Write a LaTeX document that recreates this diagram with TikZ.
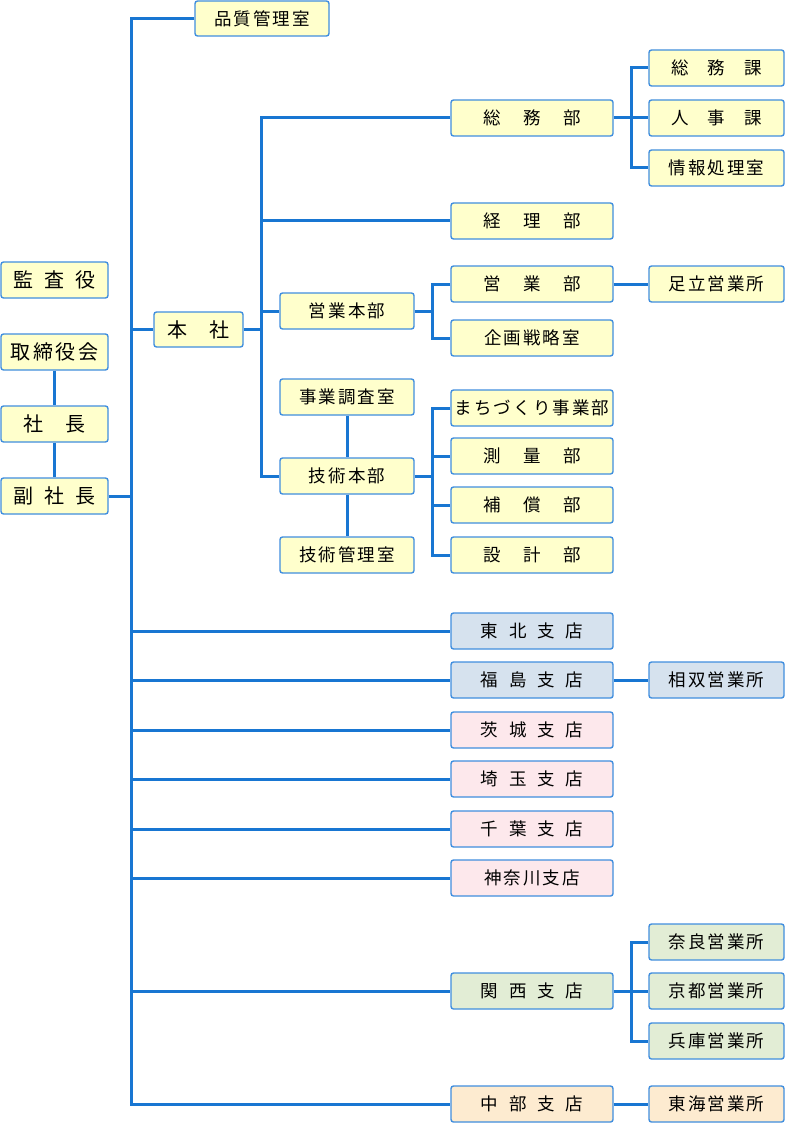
\documentclass[tikz,border=0pt]{standalone}
\usepackage{fontspec}
\setmainfont{Noto Sans CJK JP}[LetterSpace=12]
\usetikzlibrary{positioning}
\definecolor{linkblue}{RGB}{24,118,210}
\definecolor{edgeblue}{RGB}{64,142,222}
\definecolor{honshafill}{RGB}{255,255,204}
\definecolor{tohokufill}{RGB}{214,226,238}
\definecolor{kantofill}{RGB}{253,232,236}
\definecolor{kansaifill}{RGB}{226,237,213}
\definecolor{chubufill}{RGB}{253,235,208}
\newcommand{\gap}[1]{\hspace{#1em}}

\tikzset{
  unit/.style={draw=edgeblue,line width=1.4pt,rounded corners=2.5pt,fill=honshafill,
    minimum height=36pt,inner sep=0pt,font=\fontsize{17.5}{17.5}\selectfont},
  top/.style={unit,minimum width=107pt,font=\fontsize{20}{20}\selectfont},
  mid/.style={unit,minimum width=134pt},
  dept/.style={unit,minimum width=162pt},
  sect/.style={unit,minimum width=135pt},
  link/.style={draw=linkblue,line width=3pt},
}

\begin{document}
\begin{tikzpicture}[x=1pt,y=-1pt]
\useasboundingbox (0,0) rectangle (786,1123);
% executives
\node[top] (kansa) at (54.5,280) {監\gap{.53}査\gap{.53}役};
\node[top] (torishimari) at (54.5,352) {取締役会};
\node[top] (shacho) at (54.5,424) {社\gap{1.08}長};
\node[top] (fuku) at (54.5,496) {副\gap{.53}社\gap{.53}長};
\node[mid,minimum height=35pt] (hinshitsu) at (262,18.5) {品質管理室};
\node[top,minimum width=89pt,minimum height=35pt] (honsha) at (198.5,329.5) {本\gap{1.08}社};
% head office
\node[mid] (eigyohonbu) at (347,311) {営業本部};
\node[mid] (jigyo) at (347,397) {事業調査室};
\node[mid] (gijutsu) at (347,476) {技術本部};
\node[mid] (gikan) at (347,555) {技術管理室};
\node[dept] (somu) at (532,118) {総\gap{1.3}務\gap{1.3}部};
\node[dept] (keiri) at (532,221) {経\gap{1.3}理\gap{1.3}部};
\node[dept] (eigyo) at (532,284) {営\gap{1.3}業\gap{1.3}部};
\node[dept] (kikaku) at (532,338) {企画戦略室};
\node[dept] (machi) at (532,408) {まちづくり事業部};
\node[dept] (sokuryo) at (532,456) {測\gap{1.3}量\gap{1.3}部};
\node[dept] (hosho) at (532,505) {補\gap{1.3}償\gap{1.3}部};
\node[dept] (sekkei) at (532,555) {設\gap{1.3}計\gap{1.3}部};
\node[sect] (somuka) at (716.5,68) {総\gap{1.1}務\gap{1.1}課};
\node[sect] (jinji) at (716.5,118) {人\gap{1.1}事\gap{1.1}課};
\node[sect] (joho) at (716.5,168) {情報処理室};
\node[sect] (adachi) at (716.5,284) {足立営業所};
% branches
\node[dept,fill=tohokufill] (tohoku) at (532,631) {東\gap{.62}北\gap{.62}支\gap{.62}店};
\node[dept,fill=tohokufill] (fukushima) at (532,680) {福\gap{.62}島\gap{.62}支\gap{.62}店};
\node[sect,fill=tohokufill] (soso) at (716.5,680) {相双営業所};
\node[dept,fill=kantofill] (ibaraki) at (532,730) {茨\gap{.62}城\gap{.62}支\gap{.62}店};
\node[dept,fill=kantofill] (saitama) at (532,779) {埼\gap{.62}玉\gap{.62}支\gap{.62}店};
\node[dept,fill=kantofill] (chiba) at (532,829) {千\gap{.62}葉\gap{.62}支\gap{.62}店};
\node[dept,fill=kantofill] (kanagawa) at (532,878) {神奈川支店};
\node[dept,fill=kansaifill] (kansai) at (532,991) {関\gap{.62}西\gap{.62}支\gap{.62}店};
\node[sect,fill=kansaifill] (nara) at (716.5,942) {奈良営業所};
\node[sect,fill=kansaifill] (kyoto) at (716.5,991) {京都営業所};
\node[sect,fill=kansaifill] (hyogo) at (716.5,1041) {兵庫営業所};
\node[dept,fill=chubufill] (chubu) at (532,1104) {中\gap{.62}部\gap{.62}支\gap{.62}店};
\node[sect,fill=chubufill] (tokai) at (716.5,1104) {東海営業所};

\coordinate (trunk) at (131,0);
\coordinate (trunkhq) at (261,0);
\coordinate (fork) at (432,0);
\coordinate (forksect) at (631,0);

% main line
\draw[link] (hinshitsu.west) -| (trunk |- chubu) -- (chubu.west);
\draw[link] (fuku.east) -- (fuku.east -| trunk);
\foreach \n in {honsha,tohoku,fukushima,ibaraki,saitama,chiba,kanagawa,kansai}
  \draw[link] (\n.west -| trunk) -- (\n.west);
\draw[link] (torishimari.south) -- (shacho.north);
\draw[link] (shacho.south) -- (fuku.north);
% head office lines
\draw[link] (somu.west) -| (trunkhq |- gijutsu) -- (gijutsu.west);
\draw[link] (honsha.east) -- (honsha.east -| trunkhq);
\foreach \n in {keiri,eigyohonbu}
  \draw[link] (\n.west -| trunkhq) -- (\n.west);
\draw[link] (eigyohonbu.east) -- (eigyohonbu.east -| fork);
\draw[link] (eigyo.west) -| (fork |- kikaku) -- (kikaku.west);
\draw[link] (gijutsu.east) -- (gijutsu.east -| fork);
\draw[link] (machi.west) -| (fork |- sekkei) -- (sekkei.west);
\foreach \n in {sokuryo,hosho}
  \draw[link] (\n.west -| fork) -- (\n.west);
\draw[link] (jigyo.south) -- (gijutsu.north);
\draw[link] (gijutsu.south) -- (gikan.north);
% sections
\draw[link] (somuka.west) -| (forksect |- joho) -- (joho.west);
\draw[link] (somu.east) -- (jinji.west);
\draw[link] (eigyo.east) -- (adachi.west);
\draw[link] (fukushima.east) -- (soso.west);
\draw[link] (nara.west) -| (forksect |- hyogo) -- (hyogo.west);
\draw[link] (kansai.east) -- (kyoto.west);
\draw[link] (chubu.east) -- (tokai.west);
\end{tikzpicture}
\end{document}
